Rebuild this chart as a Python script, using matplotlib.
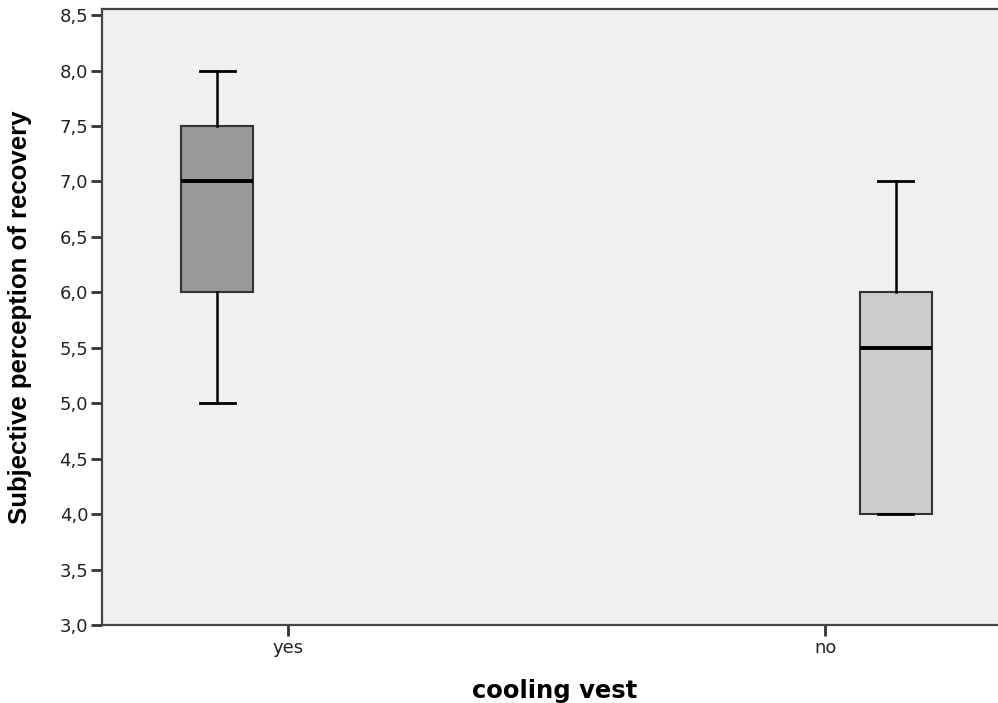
import matplotlib
matplotlib.use('Agg')
import matplotlib.pyplot as plt
import numpy as np

plt.rcParams['font.family'] = ['DejaVu Sans']

groups = ['yes', 'no']
whisker_low = [5.0, 4.0]
q1 = [6.0, 4.0]
median = [7.0, 5.5]
q3 = [7.5, 6.0]
whisker_high = [8.0, 7.0]
box_colors = ['#999999', '#cccccc']

stats = []
for i, g in enumerate(groups):
    stats.append({'label': g, 'whislo': whisker_low[i], 'q1': q1[i],
                  'med': median[i], 'q3': q3[i], 'whishi': whisker_high[i],
                  'fliers': []})

fig = plt.figure(figsize=(9.98, 7.03), dpi=100)
ax = fig.add_axes([102 / 998, 78 / 703, 1 - 102 / 998 + 0.01, (625 - 9) / 703])
ax.set_facecolor('#f0f0f0')

# Boxen leicht versetzt wie in SPSS
offsets = [-0.132, 0.131]
pos = np.arange(len(groups)) + np.array(offsets)
bp = ax.bxp(stats, positions=pos, widths=0.134, patch_artist=True,
            showfliers=False,
            boxprops=dict(edgecolor='#333333', linewidth=1.5),
            medianprops=dict(color='black', linewidth=2.8),
            whiskerprops=dict(color='black', linewidth=1.8),
            capprops=dict(color='black', linewidth=2.0),
            capwidths=0.066)
for patch, c in zip(bp['boxes'], box_colors):
    patch.set_facecolor(c)

ax.set_xticks(np.arange(len(groups)))
ax.set_xticklabels(groups)
ax.set_xlim(-0.347, 1.34)
ax.set_ylim(3.0, 8.555)
yt = np.arange(3.0, 8.51, 0.5)
ax.set_yticks(yt)
ax.set_yticklabels([f'{v:.1f}'.replace('.', ',') for v in yt])

ax.tick_params(axis='both', direction='out', length=8, width=2, color='#333333',
               labelsize=13, labelcolor='#222222')
ax.tick_params(axis='y', pad=2)
ax.tick_params(axis='x', pad=2)
for s in ax.spines.values():
    s.set_color('#444444')
    s.set_linewidth(1.6)

ax.set_ylabel('Subjective perception of recovery', fontsize=18.5, fontweight='bold',
              family='Liberation Sans')
ax.yaxis.set_label_coords(-0.077, 0.5)
ax.set_xlabel('cooling vest', fontsize=17.5, fontweight='bold')
ax.xaxis.set_label_coords(0.5, -0.088)

fig.savefig('out.png', dpi=100)
